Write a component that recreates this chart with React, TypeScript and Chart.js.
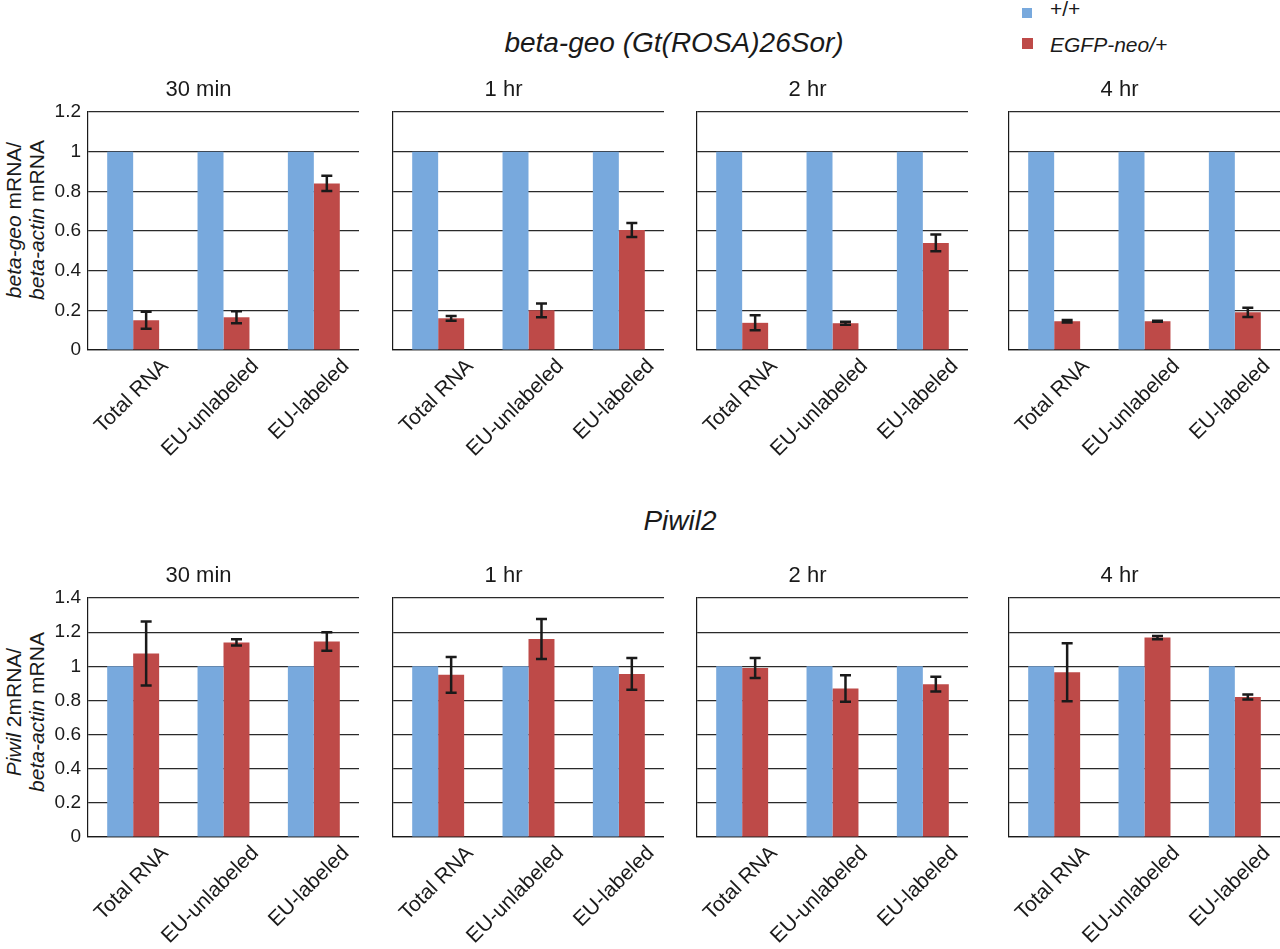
import { useEffect, useRef } from "react";
import Chart from "chart.js/auto";

const FONT = '"Liberation Sans", Arial, Helvetica, sans-serif';
const BLUE = "#78a9dd";
const RED = "#be4a48";
const INK = "#1a1a1a";

// --- data ---
const categories = ["Total RNA", "EU-unlabeled", "EU-labeled"];
const timepoints = ["30 min", "1 hr", "2 hr", "4 hr"];

const betaGeoWT = [
  [1, 1, 1],
  [1, 1, 1],
  [1, 1, 1],
  [1, 1, 1],
];
const betaGeoMut = [
  [0.15, 0.165, 0.84],
  [0.16, 0.2, 0.605],
  [0.137, 0.135, 0.54],
  [0.145, 0.145, 0.19],
];
const betaGeoMutErr = [
  [0.043, 0.03, 0.038],
  [0.012, 0.035, 0.035],
  [0.038, 0.008, 0.042],
  [0.006, 0.003, 0.023],
];

const piwil2WT = [
  [1, 1, 1],
  [1, 1, 1],
  [1, 1, 1],
  [1, 1, 1],
];
const piwil2Mut = [
  [1.075, 1.14, 1.145],
  [0.95, 1.16, 0.955],
  [0.99, 0.87, 0.895],
  [0.965, 1.168, 0.82],
];
const piwil2MutErr = [
  [0.187, 0.018, 0.054],
  [0.105, 0.117, 0.093],
  [0.059, 0.078, 0.043],
  [0.17, 0.01, 0.015],
];

// --- layout ---
const COL_LEFT = [88, 393, 697, 1009];
const PLOT_W = 271;
const Y_AXIS_W = 50;
const X_AXIS_H = 125;
const TITLE_H = 35;

// draws the error bars on the second (red) dataset
const errorBarPlugin = {
  id: "errorBars",
  afterDatasetsDraw(chart: any, _args: any, opts: any) {
    const errs: number[] = opts.errors || [];
    const meta = chart.getDatasetMeta(1);
    const y = chart.scales.y;
    const ctx = chart.ctx;
    ctx.save();
    ctx.strokeStyle = INK;
    ctx.lineWidth = 2.5;
    meta.data.forEach((bar: any, i: number) => {
      const v = chart.data.datasets[1].data[i] as number;
      const e = errs[i];
      if (!e) return;
      const x = bar.x;
      const top = y.getPixelForValue(v + e);
      const bot = y.getPixelForValue(v - e);
      ctx.beginPath();
      ctx.moveTo(x, top);
      ctx.lineTo(x, bot);
      ctx.moveTo(x - 5.5, top);
      ctx.lineTo(x + 5.5, top);
      ctx.moveTo(x - 5.5, bot);
      ctx.lineTo(x + 5.5, bot);
      ctx.stroke();
    });
    ctx.restore();
  },
};

type PanelProps = {
  left: number;
  top: number;
  plotH: number;
  title: string;
  yMax: number;
  showTicks: boolean;
  wt: number[];
  mut: number[];
  err: number[];
};

const Panel: React.FC<PanelProps> = ({ left, top, plotH, title, yMax, showTicks, wt, mut, err }) => {
  const canvasRef = useRef<HTMLCanvasElement | null>(null);

  useEffect(() => {
    if (!canvasRef.current) return;
    const chart = new Chart(canvasRef.current, {
      type: "bar",
      data: {
        labels: categories,
        datasets: [
          { label: "+/+", data: wt, backgroundColor: BLUE },
          { label: "EGFP-neo/+", data: mut, backgroundColor: RED },
        ],
      },
      options: {
        animation: false,
        responsive: true,
        maintainAspectRatio: false,
        layout: { padding: 0 },
        datasets: { bar: { barPercentage: 1, categoryPercentage: 0.575 } },
        plugins: {
          legend: { display: false },
          tooltip: { enabled: false },
          title: {
            display: true,
            text: title,
            color: INK,
            font: { family: FONT, size: 22, weight: "normal", lineHeight: "26px" },
            padding: { top: 0, bottom: 9 },
          },
          // @ts-ignore custom plugin options
          errorBars: { errors: err },
        },
        scales: {
          x: {
            grid: { display: false, drawTicks: false },
            border: { display: true, color: INK, width: 1.2 },
            ticks: {
              autoSkip: false,
              maxRotation: 45,
              minRotation: 45,
              color: INK,
              font: { family: FONT, size: 21 },
              padding: 4,
              labelOffset: 32,
            },
            afterFit: (s: any) => {
              s.height = X_AXIS_H;
            },
          },
          y: {
            min: 0,
            max: yMax,
            grid: { color: "#2a2a2a", lineWidth: 1.2, drawTicks: false },
            border: { display: true, color: INK, width: 1.2 },
            ticks: {
              display: showTicks,
              stepSize: 0.2,
              color: INK,
              font: { family: FONT, size: 19 },
              padding: 7,
              callback: (v: any) => String(Number(Number(v).toFixed(1))),
            },
            afterFit: (s: any) => {
              s.width = Y_AXIS_W;
            },
          },
        },
      },
      plugins: [errorBarPlugin],
    });
    return () => chart.destroy();
  }, [title, yMax, showTicks, wt, mut, err]);

  return (
    <div
      style={{
        position: "absolute",
        left: left - Y_AXIS_W,
        top: top - TITLE_H,
        width: Y_AXIS_W + PLOT_W,
        height: TITLE_H + plotH + X_AXIS_H,
      }}
    >
      <canvas ref={canvasRef} />
    </div>
  );
};

const rows = [
  { top: 112, plotH: 238, yMax: 1.2, wt: betaGeoWT, mut: betaGeoMut, err: betaGeoMutErr },
  { top: 598, plotH: 239, yMax: 1.4, wt: piwil2WT, mut: piwil2Mut, err: piwil2MutErr },
];

const text = (extra: React.CSSProperties): React.CSSProperties => ({
  position: "absolute",
  fontFamily: FONT,
  color: INK,
  whiteSpace: "nowrap",
  ...extra,
});

const yTitle = (cy: number): React.CSSProperties =>
  text({
    left: 25,
    top: cy,
    fontSize: 21,
    lineHeight: "23px",
    textAlign: "center",
    transform: "translate(-50%, -50%) rotate(-90deg)",
  });

export default function App() {
  useEffect(() => {
    document.body.style.margin = "0";
  }, []);

  return (
    <div style={{ position: "relative", width: 1280, height: 949, overflow: "hidden", background: "#fff" }}>
      {/* section titles */}
      <div style={text({ left: 674, top: 43, fontSize: 28, fontStyle: "italic", transform: "translate(-50%, -50%)" })}>
        beta-geo (Gt(ROSA)26Sor)
      </div>
      <div style={text({ left: 680, top: 521, fontSize: 28, fontStyle: "italic", transform: "translate(-50%, -50%)" })}>
        Piwil2
      </div>

      {/* legend */}
      <div style={{ position: "absolute", left: 1022, top: 8, width: 10, height: 10, background: BLUE }} />
      <div style={text({ left: 1050, top: 9, fontSize: 21, transform: "translateY(-50%)" })}>+/+</div>
      <div style={{ position: "absolute", left: 1022, top: 38, width: 11, height: 11, background: RED }} />
      <div style={text({ left: 1050, top: 45, fontSize: 21, fontStyle: "italic", transform: "translateY(-50%)" })}>
        EGFP-neo/+
      </div>

      {/* y-axis titles */}
      <div style={yTitle(220)}>
        <i>beta-geo</i> mRNA/
        <br />
        <i>beta-actin</i> mRNA
      </div>
      <div style={yTitle(712)}>
        <i>Piwil</i> 2mRNA/
        <br />
        <i>beta-actin</i> mRNA
      </div>

      {rows.map((row, r) =>
        timepoints.map((tp, c) => (
          <Panel
            key={`${r}-${c}`}
            left={COL_LEFT[c]}
            top={row.top}
            plotH={row.plotH}
            title={tp}
            yMax={row.yMax}
            showTicks={c === 0}
            wt={row.wt[c]}
            mut={row.mut[c]}
            err={row.err[c]}
          />
        ))
      )}
    </div>
  );
}
